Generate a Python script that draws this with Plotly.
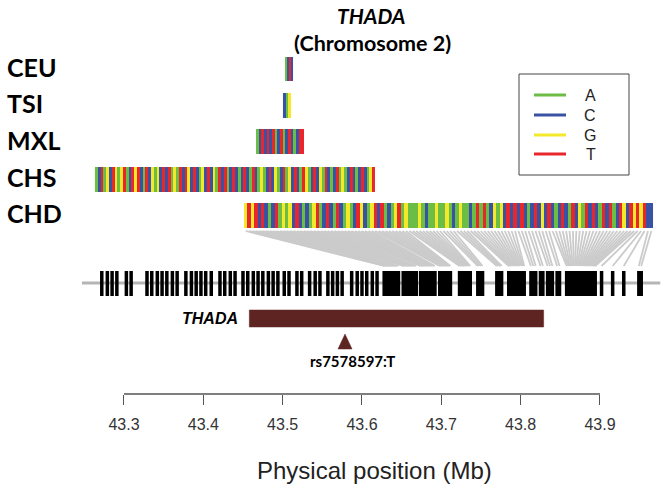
import numpy as np
import plotly.graph_objects as go

# ---------------- data ----------------
populations = ["CEU", "TSI", "MXL", "CHS", "CHD"]
hap_start_kb = [43503.0, 43500.4, 43466.4, 43263.4, 43451.3]
hap_end_kb = [43513.7, 43509.9, 43526.9, 43616.4, 43966.9]

ceu_alleles = "ACTC"
tsi_alleles = "CAG"
mxl_alleles = "ACTCTCTACTACTCACTT"
chs_alleles = ("ACTAGCTGAG" "TACTGTCATC" "GAGCTCTAGA" "TCTGCTCAGC" "TCGATCTACT"
               "CACTCATCAG" "ACTCGACTAG" "CTCATGACTC" "GATCACTAGA" "CTCACTCAGT")
chd_alleles = ("GTGTCTCACT" "AGAGCTCACA" "GTACTCATCA" "GACTGCAGTC" "TACAGTAGAA"
               "AGACAAGAAG" "ACAGAACATA" "TACGAGCTCT" "CTCACTCGCT" "CACTCATCGA"
               "TCTCATCTAC" "TGCTGTGTCC")

# SNP positions (kb) typed in CHD haplotype (connected by the grey fan)
chd_snp_kb = [
    43628, 43629.5, 43631, 43632.5, 43634, 43635.5, 43637, 43638.5, 43640, 43641.5, 43643, 43644.5, 43646,
    43652, 43653.5, 43655, 43656.5, 43658, 43659.5, 43661, 43662.5, 43664, 43665.5, 43667, 43668.5,
    43674, 43675.5, 43677, 43678.5, 43680, 43681.5, 43683, 43684.5, 43686, 43687.5, 43689, 43690.5, 43692,
    43698, 43699.5, 43701, 43702.5, 43704, 43705.5, 43707, 43708.5, 43710, 43711.5,
    43723, 43724.5, 43726, 43727.5, 43729, 43730.5, 43732, 43733.5, 43735, 43736.5,
    43746, 43748, 43750, 43752,
    43770, 43772, 43774, 43776,
    43785, 43786.5, 43788, 43789.5, 43791, 43792.5, 43794, 43795.5, 43797, 43798.5, 43800, 43801.5, 43803, 43804.5,
    43813, 43816, 43819, 43825, 43828, 43834, 43837, 43840, 43846, 43849,
    43858, 43859.5, 43861, 43862.5, 43864, 43865.5, 43867, 43868.5, 43870, 43871.5, 43873, 43874.5, 43876,
    43877.5, 43879, 43880.5, 43882, 43883.5, 43885, 43886.5, 43888, 43889.5, 43891, 43892.5, 43894,
    43902, 43916, 43930,
    43949, 43952,
]
# other SNP positions (kb) typed in the remaining populations
other_snp_kb = [
    43272, 43279, 43285, 43291, 43303, 43309, 43329, 43335, 43342, 43348,
    43354, 43361, 43367, 43378, 43385, 43391, 43397, 43403, 43410, 43421,
    43427, 43434, 43440, 43450, 43456,
    43463, 43469, 43475, 43482, 43488, 43494, 43502, 43508, 43518, 43524,
    43534, 43541, 43547, 43557, 43563, 43569, 43575, 43587, 43594, 43600,
    43606, 43613, 43619,
]

region_start_kb = 43247
region_end_kb = 43976
gene_name = "THADA"
gene_start_kb = 43458
gene_end_kb = 43829
lead_snp_label = "rs7578597:T"
lead_snp_kb = 43578.6

x_tick_values = [43.3, 43.4, 43.5, 43.6, 43.7, 43.8, 43.9]
x_tick_labels = ["43.3", "43.4", "43.5", "43.6", "43.7", "43.8", "43.9"]
x_title = "Physical position (Mb)"

alleles = ["A", "C", "G", "T"]
allele_colors = ["#6cbd45", "#3a52a3", "#f3e82a", "#e8272d"]

# ---------------- layout constants (pixel rows) ----------------
row_top = [57, 93, 129, 167, 203]
row_bot = [81, 118, 154, 192, 228]
label_y = [67, 103, 140, 177, 213]

hap_strings = [ceu_alleles, tsi_alleles, mxl_alleles, chs_alleles, chd_alleles]

fig = go.Figure()

cs = []
for i, c in enumerate(allele_colors):
    cs.append([i / 4, c])
    cs.append([(i + 1) / 4, c])

for pop, s0, s1, seq, yt, yb in zip(populations, hap_start_kb, hap_end_kb,
                                     hap_strings, row_top, row_bot):
    z = [[alleles.index(a) for a in seq]]
    xe = np.linspace(s0, s1, len(seq) + 1) / 1000.0
    fig.add_trace(go.Heatmap(z=z, x=xe, y=[yt, yb], colorscale=cs, zmin=0, zmax=3,
                             showscale=False, hoverinfo="skip", name=pop))

# fan lines from CHD stripes to SNP positions
chd_s0, chd_s1 = hap_start_kb[4], hap_end_kb[4]
n = min(len(chd_snp_kb), len(chd_alleles))
edges = np.linspace(chd_s0, chd_s1, len(chd_alleles) + 1)
centers = (edges[:-1] + edges[1:]) / 2
fx, fy = [], []
for i in range(n):
    fx += [centers[i] / 1000.0, chd_snp_kb[i] / 1000.0, None]
    fy += [231, 266, None]
fig.add_trace(go.Scatter(x=fx, y=fy, mode="lines", line=dict(color="#cbcbcb", width=1.8),
                         hoverinfo="skip", showlegend=False))

# chromosome line
fig.add_trace(go.Scatter(x=[region_start_kb / 1000.0, region_end_kb / 1000.0], y=[283, 283],
                         mode="lines", line=dict(color="#b5b5b5", width=3),
                         hoverinfo="skip", showlegend=False))
# SNP ticks
all_snps = sorted(set(other_snp_kb) | set(chd_snp_kb))
tx, ty = [], []
for p in all_snps:
    tx += [p / 1000.0, p / 1000.0, None]
    ty += [271, 296, None]
fig.add_trace(go.Scatter(x=tx, y=ty, mode="lines", line=dict(color="black", width=3.5),
                         hoverinfo="skip", showlegend=False))

# gene bar
g0, g1 = gene_start_kb / 1000.0, gene_end_kb / 1000.0
fig.add_trace(go.Scatter(x=[g0, g1, g1, g0, g0], y=[310, 310, 327, 327, 310], mode="lines",
                         fill="toself", fillcolor="#5e2422", line=dict(color="#5e2422", width=0.5),
                         hoverinfo="skip", showlegend=False))

# lead SNP triangle
mb_per_px = (x_tick_values[-1] - x_tick_values[0]) / 476.0
r = lead_snp_kb / 1000.0
hw = 7 * mb_per_px
fig.add_trace(go.Scatter(x=[r - hw, r, r + hw, r - hw], y=[349, 334, 349, 349], mode="lines",
                         fill="toself", fillcolor="#5e2422", line=dict(color="#5e2422", width=0.5),
                         hoverinfo="skip", showlegend=False))

# axis line (R style, from first to last tick)
fig.add_trace(go.Scatter(x=[x_tick_values[0], x_tick_values[-1]], y=[394, 394], mode="lines",
                         line=dict(color="#555555", width=1.3), hoverinfo="skip", showlegend=False))

lato = "Lato, 'Open Sans', sans-serif"
arial = "'Liberation Sans', Arial, sans-serif"

ann = []
ann.append(dict(text="<b><i>THADA</i></b>", x=371 / 672, y=15, xref="paper", yref="y",
                showarrow=False, font=dict(family=lato, size=21, color="black")))
ann.append(dict(text="<b>(Chromosome 2)</b>", x=372 / 672, y=43, xref="paper", yref="y",
                showarrow=False, font=dict(family=lato, size=21.5, color="black")))
for pop, ly in zip(populations, label_y):
    ann.append(dict(text="<b>%s</b>" % pop, x=5 / 672, y=ly, xref="paper", yref="y",
                    xanchor="left", showarrow=False, font=dict(family=lato, size=25, color="black")))
ann.append(dict(text="<b><i>%s</i></b>" % gene_name, x=g0, y=318.5, xref="x", yref="y",
                xanchor="right", xshift=-9, showarrow=False,
                font=dict(family=arial, size=16, color="black")))
ann.append(dict(text="<b>%s</b>" % lead_snp_label, x=r, y=361, xref="x", yref="y",
                xshift=7, showarrow=False, font=dict(family=lato, size=15, color="black")))
ann.append(dict(text=x_title, x=374 / 672, y=470, xref="paper", yref="y", showarrow=False,
                font=dict(family=arial, size=24, color="#222222")))

# legend (manual, R style)
shapes = [dict(type="rect", xref="paper", yref="y", x0=519 / 672, x1=629 / 672, y0=74, y1=175,
               line=dict(color="#444444", width=1), fillcolor="rgba(0,0,0,0)")]
leg_y = [95, 115, 135, 154]
for a, c, yy in zip(alleles, allele_colors, leg_y):
    shapes.append(dict(type="line", xref="paper", yref="y", x0=534 / 672, x1=566 / 672,
                       y0=yy, y1=yy, line=dict(color=c, width=3)))
    ann.append(dict(text=a, x=598 / 672, y=yy, xref="paper", yref="y", showarrow=False,
                    font=dict(family=arial, size=16, color="#222222")))

fig.update_layout(
    width=672, height=488,
    margin=dict(l=0, r=0, t=0, b=0),
    paper_bgcolor="white", plot_bgcolor="white",
    showlegend=False,
    annotations=ann, shapes=shapes,
    xaxis=dict(range=[43.1437, 43.9908], anchor="free", position=(488 - 394) / 488,
               tickvals=x_tick_values, ticktext=x_tick_labels, ticks="outside",
               ticklen=10, tickwidth=1.3, tickcolor="#555555",
               showgrid=False, zeroline=False, showline=False,
               ticklabelstandoff=6,
               tickfont=dict(family=arial, size=16, color="#333333")),
    yaxis=dict(range=[488, 0], visible=False, showgrid=False, zeroline=False),
)

fig.write_html("out.html", config={"displayModeBar": False},
               post_script="document.body.style.margin='0px';")
